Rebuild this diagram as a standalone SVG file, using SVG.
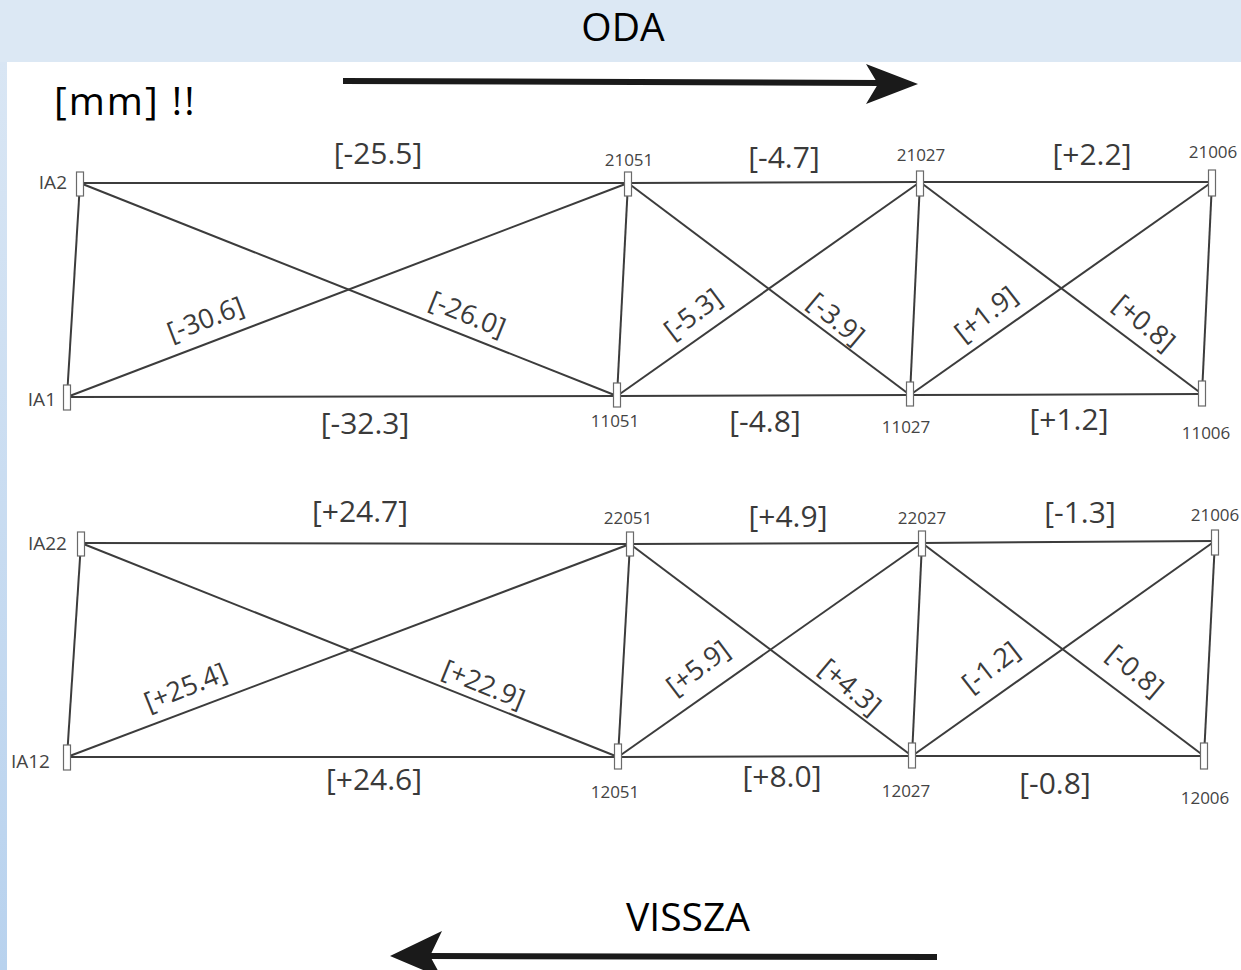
<svg xmlns="http://www.w3.org/2000/svg" width="1241" height="970" viewBox="0 0 1241 970">
  <style>
    .title { font-family: "Open Sans", "Liberation Sans", sans-serif; font-size: 39px; fill: #000; }
    .node rect { fill: #fff; stroke: #6a6a6a; stroke-width: 1.2; }
    .node text { font-family: "Open Sans", "Liberation Sans", sans-serif; font-size: 17px; fill: #444; }
    .node text.ia { font-size: 19px; }
    .bar { stroke: #3c3c3c; stroke-width: 2; fill: none; }
    .val { font-family: "Open Sans", "Liberation Sans", sans-serif; font-size: 30px; fill: #3a3a3a; text-anchor: middle; }
    .dval { font-family: "Open Sans", "Liberation Sans", sans-serif; font-size: 27px; fill: #3a3a3a; text-anchor: middle; dominant-baseline: central; }
    .mid { text-anchor: middle; }
    .end { text-anchor: end; }
  </style>
  <defs>
    <linearGradient id="side" x1="0" y1="0" x2="0" y2="1">
      <stop offset="0" stop-color="#d9e6f4"/>
      <stop offset="1" stop-color="#b8d2ee"/>
    </linearGradient>
  </defs>

  <!-- page background -->
  <rect x="0" y="0" width="1241" height="970" fill="#fff"/>
  <rect x="0" y="0" width="1241" height="62" fill="#dce8f4"/>
  <rect x="0" y="62" width="7" height="908" fill="url(#side)"/>

  <!-- headings and direction arrows -->
  <text class="title mid" x="623" y="41" font-size="37">ODA</text>
  <text class="title" x="54" y="115" letter-spacing="2">[mm] !!</text>
  <text class="title mid" x="688" y="931">VISSZA</text>
  <g id="arrows" fill="#1a1a1a">
    <line x1="343" y1="81" x2="880" y2="83" stroke="#1a1a1a" stroke-width="6"/>
    <path d="M918,84 L866,64 L878,84 L866,104 Z"/>
    <line x1="937" y1="957" x2="430" y2="956" stroke="#1a1a1a" stroke-width="6"/>
    <path d="M390,956 L442,931 L430,956 L442,978 Z"/>
  </g>

  <!-- truss members -->
  <g id="connectors" class="bar">
    <!-- upper truss: chords -->
    <polyline points="80,183 628,183 920,182 1212,182"/>
    <polyline points="67,397 617,396 910,395 1202,394"/>
    <!-- upper truss: posts -->
    <line x1="80" y1="183" x2="67" y2="397"/>
    <line x1="628" y1="183" x2="617" y2="396"/>
    <line x1="920" y1="182" x2="910" y2="395"/>
    <line x1="1212" y1="182" x2="1202" y2="394"/>
    <!-- upper truss: diagonals -->
    <line x1="80" y1="183" x2="617" y2="396"/>
    <line x1="67" y1="397" x2="628" y2="183"/>
    <line x1="628" y1="183" x2="910" y2="395"/>
    <line x1="617" y1="396" x2="920" y2="182"/>
    <line x1="920" y1="182" x2="1202" y2="394"/>
    <line x1="910" y1="395" x2="1212" y2="182"/>

    <!-- lower truss: chords -->
    <polyline points="81,543 630,544 922,543 1215,541"/>
    <polyline points="67,757 618,757 912,756 1204,756"/>
    <!-- lower truss: posts -->
    <line x1="81" y1="543" x2="67" y2="757"/>
    <line x1="630" y1="544" x2="618" y2="757"/>
    <line x1="922" y1="543" x2="912" y2="756"/>
    <line x1="1215" y1="541" x2="1204" y2="756"/>
    <!-- lower truss: diagonals -->
    <line x1="81" y1="543" x2="618" y2="757"/>
    <line x1="67" y1="757" x2="630" y2="544"/>
    <line x1="630" y1="544" x2="912" y2="756"/>
    <line x1="618" y1="757" x2="922" y2="543"/>
    <line x1="922" y1="543" x2="1204" y2="756"/>
    <line x1="912" y1="756" x2="1215" y2="541"/>
  </g>

  <!-- member values, upper truss -->
  <g id="values-upper">
    <text class="val" x="378" y="164">[-25.5]</text>
    <text class="val" x="784" y="168">[-4.7]</text>
    <text class="val" x="1092" y="165">[+2.2]</text>
    <text class="val" x="365" y="434">[-32.3]</text>
    <text class="val" x="765" y="432">[-4.8]</text>
    <text class="val" x="1069" y="430">[+1.2]</text>
    <text class="dval" transform="translate(205,318) rotate(-21)">[-30.6]</text>
    <text class="dval" transform="translate(468,313) rotate(22)">[-26.0]</text>
    <text class="dval" transform="translate(692,313) rotate(-37)">[-5.3]</text>
    <text class="dval" transform="translate(837,318) rotate(40)">[-3.9]</text>
    <text class="dval" transform="translate(985,313) rotate(-38)">[+1.9]</text>
    <text class="dval" transform="translate(1145,322) rotate(40)">[+0.8]</text>
  </g>

  <!-- member values, lower truss -->
  <g id="values-lower">
    <text class="val" x="360" y="522">[+24.7]</text>
    <text class="val" x="788" y="527">[+4.9]</text>
    <text class="val" x="1080" y="523">[-1.3]</text>
    <text class="val" x="374" y="790">[+24.6]</text>
    <text class="val" x="782" y="787">[+8.0]</text>
    <text class="val" x="1055" y="794">[-0.8]</text>
    <text class="dval" transform="translate(185,686) rotate(-22)">[+25.4]</text>
    <text class="dval" transform="translate(484,683) rotate(22)">[+22.9]</text>
    <text class="dval" transform="translate(697,667) rotate(-37)">[+5.9]</text>
    <text class="dval" transform="translate(851,686) rotate(40)">[+4.3]</text>
    <text class="dval" transform="translate(990,666) rotate(-38)">[-1.2]</text>
    <text class="dval" transform="translate(1136,670) rotate(40)">[-0.8]</text>
  </g>

  <!-- survey points, upper truss -->
  <g id="IA2" class="node"><rect x="76.5" y="172" width="7" height="24"/><text class="end ia" x="67" y="189">IA2</text></g>
  <g id="p21051" class="node"><rect x="624.5" y="172" width="7" height="24"/><text class="mid" x="629" y="166">21051</text></g>
  <g id="p21027" class="node"><rect x="916.5" y="171" width="7" height="25"/><text class="mid" x="921" y="161">21027</text></g>
  <g id="p21006" class="node"><rect x="1208.5" y="170" width="7" height="26"/><text class="mid" x="1213" y="158">21006</text></g>
  <g id="IA1" class="node"><rect x="63.5" y="385" width="7" height="25"/><text class="end ia" x="56" y="406">IA1</text></g>
  <g id="p11051" class="node"><rect x="613.5" y="383" width="7" height="24"/><text class="mid" x="615" y="427">11051</text></g>
  <g id="p11027" class="node"><rect x="906.5" y="382" width="7" height="24"/><text class="mid" x="906" y="433">11027</text></g>
  <g id="p11006" class="node"><rect x="1198.5" y="381" width="7" height="25"/><text class="mid" x="1206" y="439">11006</text></g>

  <!-- survey points, lower truss -->
  <g id="IA22" class="node"><rect x="77.5" y="532" width="7" height="24"/><text class="end ia" x="67" y="550">IA22</text></g>
  <g id="p22051" class="node"><rect x="626.5" y="532" width="7" height="24"/><text class="mid" x="628" y="524">22051</text></g>
  <g id="p22027" class="node"><rect x="918.5" y="531" width="7" height="25"/><text class="mid" x="922" y="524">22027</text></g>
  <g id="p21006b" class="node"><rect x="1211.5" y="530" width="7" height="25"/><text class="mid" x="1215" y="521">21006</text></g>
  <g id="IA12" class="node"><rect x="63.5" y="745" width="7" height="25"/><text class="end ia" x="50" y="768">IA12</text></g>
  <g id="p12051" class="node"><rect x="614.5" y="744" width="7" height="25"/><text class="mid" x="615" y="798">12051</text></g>
  <g id="p12027" class="node"><rect x="908.5" y="743" width="7" height="25"/><text class="mid" x="906" y="797">12027</text></g>
  <g id="p12006" class="node"><rect x="1200.5" y="743" width="7" height="26"/><text class="mid" x="1205" y="804">12006</text></g>
</svg>
